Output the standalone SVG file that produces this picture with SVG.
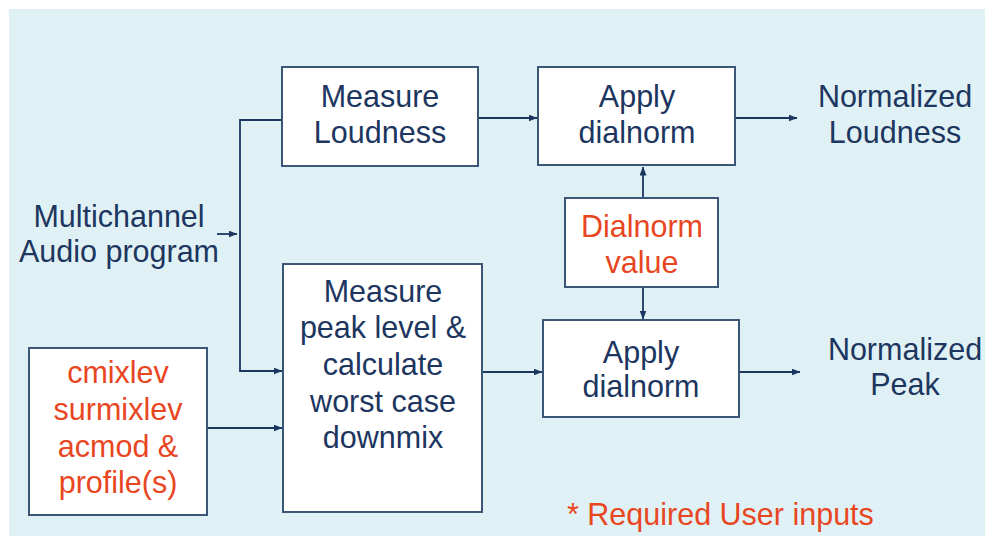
<svg xmlns="http://www.w3.org/2000/svg" width="985" height="536" viewBox="0 0 985 536">
<style>
.box{fill:#ffffff;stroke:#3b5676;stroke-width:2}
.t{font-family:"Liberation Sans",Arial,sans-serif;font-size:30.5px;fill:#1c3660;text-anchor:middle}
.r{fill:#e8461f}
.c{fill:none;stroke:#1c3660;stroke-width:1.8}
</style>
<defs>
<marker id="ah" markerUnits="userSpaceOnUse" markerWidth="9" markerHeight="7" refX="8.5" refY="3.5" orient="auto">
<path d="M0,0 L9,3.5 L0,7 Z" fill="#1c3660"/>
</marker>
</defs>
<rect x="9" y="9" width="976" height="527" fill="#e0f1f5"/>
<g id="connectors">
<path class="c" d="M478,118 H537" marker-end="url(#ah)"/>
<path class="c" d="M735,118 H797" marker-end="url(#ah)"/>
<path class="c" d="M643,198 V167" marker-end="url(#ah)"/>
<path class="c" d="M643,287 V319" marker-end="url(#ah)"/>
<path class="c" d="M217,234 H237" marker-end="url(#ah)"/>
<path class="c" d="M281,120 H240 V371 H282" marker-end="url(#ah)"/>
<path class="c" d="M207,428 H282" marker-end="url(#ah)"/>
<path class="c" d="M482,372 H542" marker-end="url(#ah)"/>
<path class="c" d="M739,372 H800" marker-end="url(#ah)"/>
</g>
<g id="measure-loudness">
<rect class="box" x="282" y="67" width="196" height="99"/>
<text class="t" x="380" y="107">Measure</text>
<text class="t" x="380" y="143">Loudness</text>
</g>
<g id="apply-top">
<rect class="box" x="538" y="67" width="197" height="98"/>
<text class="t" x="637" y="107">Apply</text>
<text class="t" x="637" y="143">dialnorm</text>
</g>
<g id="normalized-loudness">
<text class="t" x="895" y="107">Normalized</text>
<text class="t" x="895" y="143">Loudness</text>
</g>
<g id="dialnorm-value">
<rect class="box" x="565" y="198" width="153" height="89"/>
<text class="t r" x="642" y="237">Dialnorm</text>
<text class="t r" x="642" y="273">value</text>
</g>
<g id="multichannel">
<text class="t" x="119" y="227">Multichannel</text>
<text class="t" x="119" y="262">Audio program</text>
</g>
<g id="measure-peak">
<rect class="box" x="283" y="264" width="199" height="248"/>
<text class="t" x="383" y="302">Measure</text>
<text class="t" x="383" y="338">peak level &amp;</text>
<text class="t" x="383" y="375">calculate</text>
<text class="t" x="383" y="412">worst case</text>
<text class="t" x="383" y="448">downmix</text>
</g>
<g id="apply-bottom">
<rect class="box" x="543" y="320" width="196" height="97"/>
<text class="t" x="641" y="363">Apply</text>
<text class="t" x="641" y="397">dialnorm</text>
</g>
<g id="normalized-peak">
<text class="t" x="905" y="360">Normalized</text>
<text class="t" x="905" y="395">Peak</text>
</g>
<g id="user-params">
<rect class="box" x="29" y="348" width="178" height="167"/>
<text class="t r" x="118" y="383">cmixlev</text>
<text class="t r" x="118" y="420">surmixlev</text>
<text class="t r" x="118" y="457">acmod &amp;</text>
<text class="t r" x="118" y="493">profile(s)</text>
</g>
<g id="note">
<text class="t r" x="567" y="525" style="text-anchor:start">* Required User inputs</text>
</g>
</svg>
